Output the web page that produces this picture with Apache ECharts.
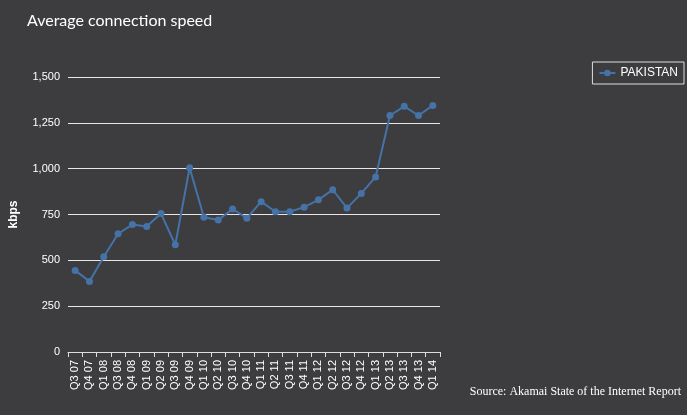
<!DOCTYPE html>
<html><head><meta charset="utf-8">
<script src="https://cdn.jsdelivr.net/npm/echarts@6/dist/echarts.min.js"></script>
<style>body{margin:0;background:#3d3d3f}#c{width:687px;height:415px}</style>
</head><body><div id="c"></div>
<script>
const categories = ["Q3 07","Q4 07","Q1 08","Q3 08","Q4 08","Q1 09","Q2 09","Q3 09","Q4 09","Q1 10","Q2 10","Q3 10","Q4 10","Q1 11","Q2 11","Q3 11","Q4 11","Q1 12","Q2 12","Q3 12","Q4 12","Q1 13","Q2 13","Q3 13","Q4 13","Q1 14"];
const pakistan = [445,385,520,645,695,685,755,585,1005,735,720,780,730,820,765,765,790,830,885,785,865,955,1290,1340,1290,1345];
const chart = echarts.init(document.getElementById('c'));
chart.setOption({
  backgroundColor:'#3d3d3f',
  title:{text:'Average connection speed',left:22,top:8,textStyle:{color:'#fff',fontSize:16,fontWeight:'normal',fontFamily:'Lato'}},
  legend:{data:['PAKISTAN'],right:3,top:62,orient:'vertical',borderColor:'#ddd',borderWidth:1,padding:[5,6],
    textStyle:{color:'#fff',fontSize:12,fontFamily:'Arial'},itemWidth:16,itemHeight:8},
  grid:{left:67,right:247,top:77,bottom:63},
  xAxis:{type:'category',data:categories,boundaryGap:true,
    axisLine:{lineStyle:{color:'#ddd'}},axisTick:{show:true,lineStyle:{color:'#ddd'}},
    axisLabel:{color:'#fff',rotate:90,fontSize:11,interval:0,fontFamily:'Arial'}},
  yAxis:{type:'value',min:0,max:1500,interval:250,name:'kbps',nameLocation:'middle',nameGap:48,
    nameTextStyle:{color:'#fff',fontWeight:'bold',fontSize:12,fontFamily:'Arial'},
    axisLabel:{color:'#fff',fontSize:11,fontFamily:'Arial',formatter:v=>v.toLocaleString('en-US')},
    axisLine:{show:false},axisTick:{show:false},
    splitLine:{lineStyle:{color:'#e8e8e8',width:1}}},
  graphic:[{type:'text',right:6,bottom:17,style:{text:'Source: Akamai State of the Internet Report',fill:'#fff',font:'12px "Liberation Serif"'}}],
  series:[{name:'PAKISTAN',type:'line',data:pakistan,symbol:'circle',symbolSize:7,
    lineStyle:{color:'#4572a7',width:2},itemStyle:{color:'#4572a7'}}]
});
</script></body></html>
